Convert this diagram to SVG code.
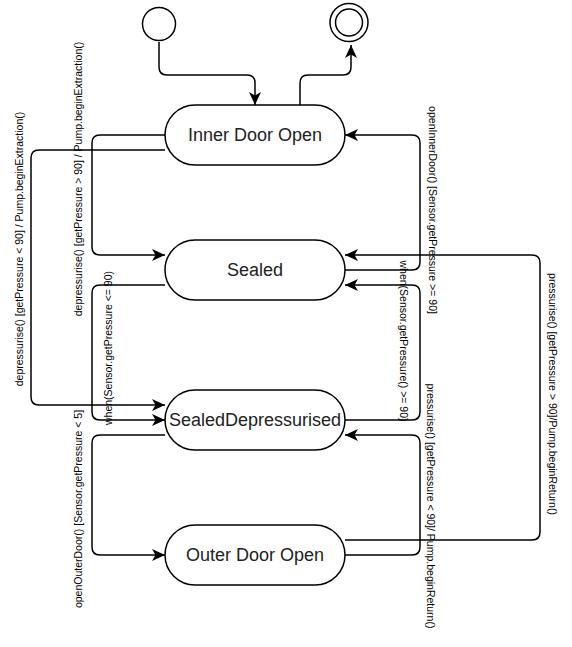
<svg xmlns="http://www.w3.org/2000/svg" width="572" height="647" viewBox="0 0 572 647">
<style>
.node{fill:#fff;stroke:#000;stroke-width:1.5}
.nlabel{font-family:"Liberation Sans",Arial,sans-serif;font-size:18px;fill:#222;text-anchor:middle;dominant-baseline:central}
.edge{fill:none;stroke:#000;stroke-width:1.5;marker-end:url(#arrow)}
.elabel{font-family:"Liberation Sans",Arial,sans-serif;font-size:10.5px;fill:#000;text-anchor:middle;dominant-baseline:central}
</style>
<defs>
<marker id="arrow" markerUnits="userSpaceOnUse" markerWidth="14" markerHeight="12" viewBox="0 0 14 12" refX="13" refY="6" orient="auto">
<path d="M0,0 L13,6 L0,12 L3.5,6 Z" fill="#000"/>
</marker>
</defs>
<rect width="572" height="647" fill="#fff"/>
<g id="initial"><circle cx="159" cy="24" r="16.5" class="node"/></g>
<g id="final"><circle cx="349" cy="22.5" r="19" class="node"/><circle cx="349" cy="22.5" r="13.5" class="node"/></g>
<g id="innerDoorOpen"><rect x="165" y="105" width="180" height="60" rx="30" ry="30" class="node"/><text x="255" y="135" class="nlabel">Inner Door Open</text></g>
<g id="sealed"><rect x="165" y="240" width="180" height="60" rx="30" ry="30" class="node"/><text x="255" y="270" class="nlabel">Sealed</text></g>
<g id="sealedDepressurised"><rect x="165" y="390" width="180" height="60" rx="30" ry="30" class="node"/><text x="255" y="420" class="nlabel">SealedDepressurised</text></g>
<g id="outerDoorOpen"><rect x="165" y="525" width="180" height="60" rx="30" ry="30" class="node"/><text x="255" y="555" class="nlabel">Outer Door Open</text></g>
<g id="connectors">
<path class="edge" d="M159,42 V67 Q159,75 167,75 H247 Q255,75 255,83 V105"/>
<path class="edge" d="M300,105 V83 Q300,75 308,75 H343 Q351,75 351,67 V45"/>
<path class="edge" d="M165,135 H100 Q92,135 92,143 V247 Q92,255 100,255 H165"/>
<path class="edge" d="M165,150 H39 Q31,150 31,158 V397 Q31,405 39,405 H165"/>
<path class="edge" d="M165,285 H100 Q92,285 92,293 V412 Q92,420 100,420 H165"/>
<path class="edge" d="M165,435 H100 Q92,435 92,443 V547 Q92,555 100,555 H165"/>
<path class="edge" d="M345,270 H412 Q420,270 420,262 V143 Q420,135 412,135 H345"/>
<path class="edge" d="M345,420 H412 Q420,420 420,412 V293 Q420,285 412,285 H345"/>
<path class="edge" d="M345,555 H412 Q420,555 420,547 V443 Q420,435 412,435 H345"/>
<path class="edge" d="M345,540 H532 Q540,540 540,532 V263 Q540,255 532,255 H345"/>
</g>
<g id="labels">
<text class="elabel" transform="translate(78,179) rotate(-90)">depressurise() [getPressure &gt; 90] / Pump.beginExtraction()</text>
<text class="elabel" transform="translate(19,249) rotate(-90)">depressurise() [getPressure &lt; 90] / Pump.beginExtraction()</text>
<text class="elabel" transform="translate(108,348) rotate(-90)">when(Sensor.getPressure &lt;= 90)</text>
<text class="elabel" transform="translate(78,509) rotate(-90)">openOuterDoor() [Sensor.getPressure &lt; 5]</text>
<text class="elabel" transform="translate(433,210) rotate(90)">openInnerDoor() [Sensor.getPressure &gt;= 90]</text>
<text class="elabel" transform="translate(404,341) rotate(90)">when(Sensor.getPressure() &gt;= 90)</text>
<text class="elabel" transform="translate(431,506) rotate(90)">pressurise() [getPressure &lt; 90]/ Pump.beginReturn()</text>
<text class="elabel" transform="translate(553,394) rotate(90)">pressurise() [getPressure &gt; 90]/Pump.beginReturn()</text>
</g>
</svg>
